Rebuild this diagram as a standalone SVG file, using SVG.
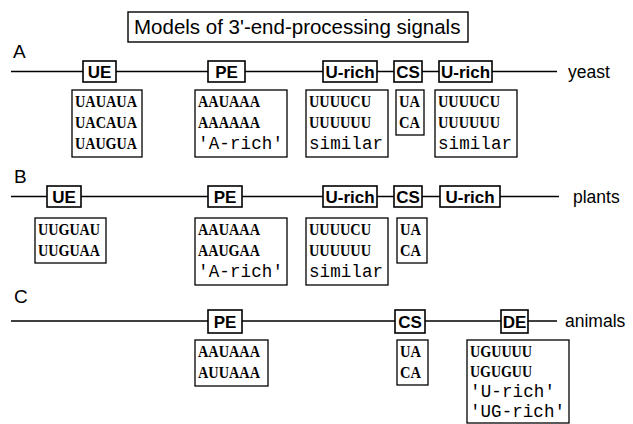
<svg xmlns="http://www.w3.org/2000/svg" width="633" height="424" viewBox="0 0 633 424">
  <style>
    .bg { fill: #ffffff; }
    .frame { fill: #ffffff; stroke: #000000; stroke-width: 1.4; }
    .tag { fill: #ffffff; stroke: #000000; stroke-width: 1.6; }
    .seq { fill: #ffffff; stroke: #000000; stroke-width: 1.3; }
    .wire { stroke: #000000; stroke-width: 1.4; fill: none; }
    .title { font-family: "Liberation Sans", Arial, sans-serif; font-size: 20.5px; fill: #000000; }
    .row { font-family: "Liberation Sans", Arial, sans-serif; font-size: 19px; fill: #000000; }
    .species { font-family: "Liberation Sans", Arial, sans-serif; font-size: 17.5px; fill: #000000; }
    .tagtext { font-family: "Liberation Sans", Arial, sans-serif; font-size: 17px; font-weight: bold; fill: #000000; text-anchor: middle; }
    .nt { font-family: "Liberation Serif", "Times New Roman", serif; font-size: 16.5px; font-weight: bold; fill: #000000; }
    .word { font-family: "Liberation Mono", "Courier New", monospace; font-size: 17.5px; fill: #000000; }
  </style>

  <rect class="bg" x="0" y="0" width="633" height="424"/>

  <!-- heading -->
  <g id="title">
    <rect class="frame" x="128" y="12" width="340" height="30"/>
    <text class="title" x="134" y="34">Models of 3'-end-processing signals</text>
  </g>

  <!-- RNA backbones -->
  <g id="connectors">
    <line class="wire" x1="11" y1="71.5" x2="557" y2="71.5"/>
    <line class="wire" x1="11" y1="196.5" x2="559" y2="196.5"/>
    <line class="wire" x1="11" y1="321" x2="557" y2="321"/>
  </g>

  <!-- ===== A : yeast ===== -->
  <g id="label-A"><text class="row" x="13" y="58">A</text></g>
  <g id="species-A"><text class="species" x="568" y="78">yeast</text></g>

  <g id="A-UE">
    <rect class="tag" x="83" y="61" width="33" height="21"/>
    <text class="tagtext" x="99.5" y="78">UE</text>
  </g>
  <g id="A-PE">
    <rect class="tag" x="208" y="61" width="37" height="21"/>
    <text class="tagtext" x="226.5" y="78">PE</text>
  </g>
  <g id="A-Urich1">
    <rect class="tag" x="323" y="61" width="54" height="21"/>
    <text class="tagtext" x="350" y="78">U-rich</text>
  </g>
  <g id="A-CS">
    <rect class="tag" x="394" y="61" width="28" height="21"/>
    <text class="tagtext" x="408" y="78">CS</text>
  </g>
  <g id="A-Urich2">
    <rect class="tag" x="439" y="61" width="53" height="21"/>
    <text class="tagtext" x="465.5" y="78">U-rich</text>
  </g>

  <g id="A-UE-seq">
    <rect class="seq" x="72" y="90" width="70" height="67"/>
    <text class="nt" x="75" y="107" textLength="62" lengthAdjust="spacingAndGlyphs">UAUAUA</text>
    <text class="nt" x="75" y="128" textLength="62" lengthAdjust="spacingAndGlyphs">UACAUA</text>
    <text class="nt" x="75" y="149" textLength="62" lengthAdjust="spacingAndGlyphs">UAUGUA</text>
  </g>
  <g id="A-PE-seq">
    <rect class="seq" x="195" y="90" width="92" height="67"/>
    <text class="nt" x="198" y="107" textLength="62" lengthAdjust="spacingAndGlyphs">AAUAAA</text>
    <text class="nt" x="198" y="128" textLength="62" lengthAdjust="spacingAndGlyphs">AAAAAA</text>
    <text class="word" x="198" y="149" textLength="85" lengthAdjust="spacing">'A-rich'</text>
  </g>
  <g id="A-Urich1-seq">
    <rect class="seq" x="306" y="90" width="82" height="67"/>
    <text class="nt" x="309" y="107" textLength="62" lengthAdjust="spacingAndGlyphs">UUUUCU</text>
    <text class="nt" x="309" y="128" textLength="62" lengthAdjust="spacingAndGlyphs">UUUUUU</text>
    <text class="word" x="309" y="149" textLength="74" lengthAdjust="spacing">similar</text>
  </g>
  <g id="A-CS-seq">
    <rect class="seq" x="396" y="90" width="28" height="45"/>
    <text class="nt" x="399" y="107" textLength="21" lengthAdjust="spacingAndGlyphs">UA</text>
    <text class="nt" x="399" y="128" textLength="21" lengthAdjust="spacingAndGlyphs">CA</text>
  </g>
  <g id="A-Urich2-seq">
    <rect class="seq" x="435" y="90" width="82" height="67"/>
    <text class="nt" x="438" y="107" textLength="62" lengthAdjust="spacingAndGlyphs">UUUUCU</text>
    <text class="nt" x="438" y="128" textLength="62" lengthAdjust="spacingAndGlyphs">UUUUUU</text>
    <text class="word" x="438" y="149" textLength="74" lengthAdjust="spacing">similar</text>
  </g>

  <!-- ===== B : plants ===== -->
  <g id="label-B"><text class="row" x="14" y="183">B</text></g>
  <g id="species-B"><text class="species" x="573" y="203">plants</text></g>

  <g id="B-UE">
    <rect class="tag" x="47" y="186" width="34" height="21"/>
    <text class="tagtext" x="64" y="203">UE</text>
  </g>
  <g id="B-PE">
    <rect class="tag" x="208" y="186" width="34" height="21"/>
    <text class="tagtext" x="225" y="203">PE</text>
  </g>
  <g id="B-Urich1">
    <rect class="tag" x="323" y="186" width="54" height="21"/>
    <text class="tagtext" x="350" y="203">U-rich</text>
  </g>
  <g id="B-CS">
    <rect class="tag" x="394" y="186" width="28" height="21"/>
    <text class="tagtext" x="408" y="203">CS</text>
  </g>
  <g id="B-Urich2">
    <rect class="tag" x="440" y="186" width="60" height="21"/>
    <text class="tagtext" x="470" y="203">U-rich</text>
  </g>

  <g id="B-UE-seq">
    <rect class="seq" x="35" y="218" width="71" height="45"/>
    <text class="nt" x="38" y="235" textLength="62" lengthAdjust="spacingAndGlyphs">UUGUAU</text>
    <text class="nt" x="38" y="256" textLength="62" lengthAdjust="spacingAndGlyphs">UUGUAA</text>
  </g>
  <g id="B-PE-seq">
    <rect class="seq" x="195" y="218" width="92" height="67"/>
    <text class="nt" x="198" y="235" textLength="62" lengthAdjust="spacingAndGlyphs">AAUAAA</text>
    <text class="nt" x="198" y="256" textLength="62" lengthAdjust="spacingAndGlyphs">AAUGAA</text>
    <text class="word" x="198" y="277" textLength="85" lengthAdjust="spacing">'A-rich'</text>
  </g>
  <g id="B-Urich1-seq">
    <rect class="seq" x="306" y="218" width="82" height="67"/>
    <text class="nt" x="309" y="235" textLength="62" lengthAdjust="spacingAndGlyphs">UUUUCU</text>
    <text class="nt" x="309" y="256" textLength="62" lengthAdjust="spacingAndGlyphs">UUUUUU</text>
    <text class="word" x="309" y="277" textLength="74" lengthAdjust="spacing">similar</text>
  </g>
  <g id="B-CS-seq">
    <rect class="seq" x="397" y="218" width="30" height="45"/>
    <text class="nt" x="400" y="235" textLength="21" lengthAdjust="spacingAndGlyphs">UA</text>
    <text class="nt" x="400" y="256" textLength="21" lengthAdjust="spacingAndGlyphs">CA</text>
  </g>

  <!-- ===== C : animals ===== -->
  <g id="label-C"><text class="row" x="14" y="303">C</text></g>
  <g id="species-C"><text class="species" x="565" y="327">animals</text></g>

  <g id="C-PE">
    <rect class="tag" x="208" y="310" width="34" height="23"/>
    <text class="tagtext" x="225" y="328">PE</text>
  </g>
  <g id="C-CS">
    <rect class="tag" x="395" y="310" width="30" height="23"/>
    <text class="tagtext" x="410" y="328">CS</text>
  </g>
  <g id="C-DE">
    <rect class="tag" x="501" y="310" width="27" height="23"/>
    <text class="tagtext" x="514.5" y="328">DE</text>
  </g>

  <g id="C-PE-seq">
    <rect class="seq" x="195" y="340" width="73" height="46"/>
    <text class="nt" x="198" y="357" textLength="62" lengthAdjust="spacingAndGlyphs">AAUAAA</text>
    <text class="nt" x="198" y="378" textLength="62" lengthAdjust="spacingAndGlyphs">AUUAAA</text>
  </g>
  <g id="C-CS-seq">
    <rect class="seq" x="397" y="340" width="31" height="45"/>
    <text class="nt" x="400" y="357" textLength="21" lengthAdjust="spacingAndGlyphs">UA</text>
    <text class="nt" x="400" y="378" textLength="21" lengthAdjust="spacingAndGlyphs">CA</text>
  </g>
  <g id="C-DE-seq">
    <rect class="seq" x="467" y="340" width="102" height="83"/>
    <text class="nt" x="470" y="357" textLength="62" lengthAdjust="spacingAndGlyphs">UGUUUU</text>
    <text class="nt" x="470" y="377" textLength="62" lengthAdjust="spacingAndGlyphs">UGUGUU</text>
    <text class="word" x="470" y="397" textLength="85" lengthAdjust="spacing">'U-rich'</text>
    <text class="word" x="470" y="417" textLength="95" lengthAdjust="spacing">'UG-rich'</text>
  </g>
</svg>
